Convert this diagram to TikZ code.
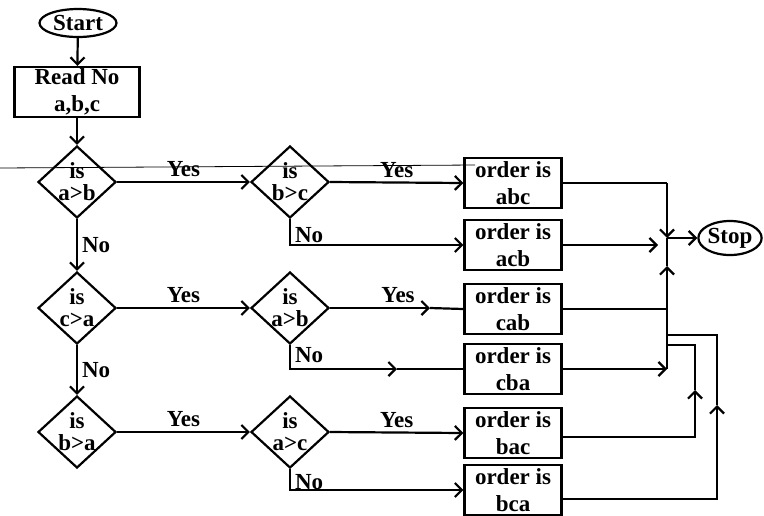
\documentclass[tikz,border=0pt]{standalone}
\usepackage{fontspec}
\setmainfont{Liberation Serif}
\usetikzlibrary{arrows.meta,shapes.geometric}
\begin{document}
\begin{tikzpicture}[x=0.5pt,y=-0.5pt,
  font=\bfseries\fontsize{11.5}{13.5}\selectfont,
  line width=1.1pt,
  arr/.style={-{Straight Barb[length=3.5pt,width=7pt,line width=1.1pt]}},
  term/.style={draw,ellipse,inner sep=0pt,minimum width=#1,minimum height=14pt},
  box/.style={draw,rectangle,inner sep=0pt,minimum width=48.5pt,minimum height=25pt,align=center},
  dia/.style={draw,diamond,inner sep=0pt,minimum width=39pt,minimum height=36pt},
  dtext/.style={align=center,font=\bfseries\fontsize{11.5}{11}\selectfont},
  lbl/.style={inner sep=2pt}
]
\useasboundingbox (0,0) rectangle (764,515);

% stray thin line of the original
\draw[line width=0.4pt] (0,168) -- (475,165);

% nodes
\node[term=38.5pt] (start) at (78,23) {Start};
\node[box,minimum width=62.5pt] (read) at (77,92) {Read No\\a,b,c};

\node[dia,label={[dtext]center:is\\a>b}] (d1) at (77,182) {};
\node[dia,label={[dtext]center:is\\c>a}] (d3) at (77,308) {};
\node[dia,label={[dtext]center:is\\b>a}] (d5) at (77,432) {};
\node[dia,label={[dtext]center:is\\b>c}] (d2) at (290,182) {};
\node[dia,label={[dtext]center:is\\a>b}] (d4) at (290,308) {};
\node[dia,label={[dtext]center:is\\a>c}] (d6) at (290,432) {};

\node[box] (abc) at (513,183) {order is\\abc};
\node[box] (acb) at (513,245) {order is\\acb};
\node[box] (cab) at (513,309) {order is\\cab};
\node[box] (cba) at (513,369) {order is\\cba};
\node[box] (bac) at (513,433) {order is\\bac};
\node[box] (bca) at (513,490) {order is\\bca};

\node[term=30pt,minimum height=17pt] (stop) at (730,238) {Stop};

% coordinates
\coordinate (m1) at (430,308);
\coordinate (m2) at (397,369);
\coordinate (top) at (667,183);
\coordinate (j) at (667,238);
\coordinate (u1) at (667,266);
\coordinate (b1) at (667,369);
\coordinate (acbend) at (658,245);
\coordinate (r1) at (695,390);
\coordinate (k1) at (667,345);
\coordinate (r2) at (717,405);
\coordinate (k2) at (667,335);

% left column
\draw[arr] (start) -- (read);
\draw[arr] (read) -- (d1);
\draw[arr] (d1) -- node[lbl,right]{No} (d3);
\draw[arr] (d3) -- node[lbl,right]{No} (d5);

% row 1
\draw[arr] (d1.east) -- node[lbl,above]{Yes} (d2.west);
\draw[arr] (d2.east) -- node[lbl,above]{Yes} (abc.west);
\draw[arr] (d2.south) |- node[lbl,pos=0.3,right]{No} (acb.west);

% row 2
\draw[arr] (d3.east) -- node[lbl,above]{Yes} (d4.west);
\draw[arr] (d4.east) -- node[lbl,above,pos=0.68]{Yes} (m1);
\draw (m1) -- (cab.west);
\draw[arr] (d4.south) |- node[lbl,pos=0.2,right]{No} (m2);
\draw (m2) -- (cba.west);

% row 3
\draw[arr] (d5.east) -- node[lbl,above]{Yes} (d6.west);
\draw[arr] (d6.east) -- node[lbl,above]{Yes} (bac.west);
\draw[arr] (d6.south) |- node[lbl,pos=0.3,right]{No} (bca.west);

% right side collection
\draw (abc.east) -| (top);
\draw[arr] (top) -- (j);
\draw[arr] (j) -- (stop.west);
\draw[arr] (acb.east) -- (acbend);
\draw[arr] (b1) -- (u1);
\draw (u1) -- (j);
\draw (cab.east) -- (cab.east -| b1);
\draw[arr] (cba.east) -- (b1);
\draw[arr] ([yshift=-2pt]bac.east) -| (r1);
\draw (r1) |- (k1);
\draw[arr] ([yshift=-4.5pt]bca.east) -| (r2);
\draw (r2) |- (k2);
\end{tikzpicture}
\end{document}
